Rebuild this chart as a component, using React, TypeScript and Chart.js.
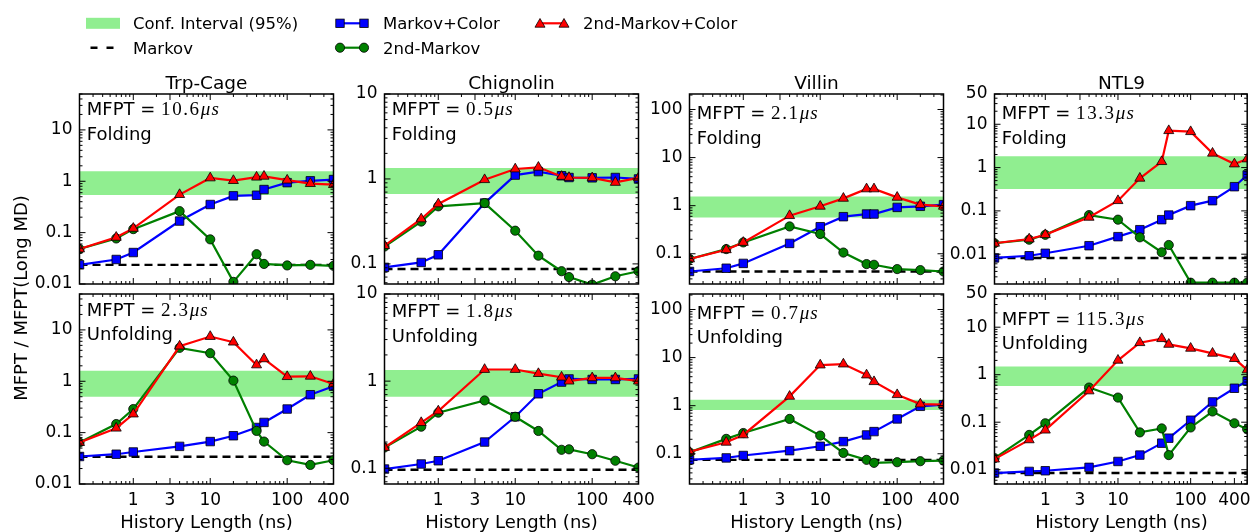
import React, { useEffect, useRef } from "react";
import { Chart, registerables } from "chart.js";

Chart.register(...registerables);

const FIG_W = 1254;
const FIG_H = 532;
const SANS = "'DejaVu Sans', 'Liberation Sans', sans-serif";
const SERIF = "'Liberation Serif', 'DejaVu Serif', serif";

// ---------------- data ----------------
const HISTORY_NS = [0.2, 0.6, 1, 4, 10, 20, 40, 50, 100, 200, 400];
const HISTORY_NS_NTL9 = [0.2, 0.6, 1, 4, 10, 20, 40, 50, 100, 200, 400, 600];
const X_TICK_VALUES = [1, 3, 10, 100, 400];

const PROTEINS = ["Trp-Cage", "Chignolin", "Villin", "NTL9"];
const MFPT_FOLDING = ["10.6", "0.5", "2.1", "13.3"];
const MFPT_UNFOLDING = ["2.3", "1.8", "0.7", "115.3"];

const TRP_Y_TICKS = [0.01, 0.1, 1, 10];
const CHIG_Y_TICKS = [0.1, 1, 10];
const VILLIN_Y_TICKS = [0.1, 1, 10, 100];
const NTL9_Y_TICKS = [0.01, 0.1, 1, 10, 50];

const TRP_FOLD_RANGE = [0.01, 50];
const TRP_UNFOLD_RANGE = [0.01, 50];
const CHIG_FOLD_RANGE = [0.058, 10];
const CHIG_UNFOLD_RANGE = [0.066, 10];
const VILLIN_FOLD_RANGE = [0.0235, 210];
const VILLIN_UNFOLD_RANGE = [0.0235, 210];
const NTL9_FOLD_RANGE = [0.00205, 50];
const NTL9_UNFOLD_RANGE = [0.005, 50];

// Trp-Cage folding
const TRP_FOLD_MARKOV_COLOR = [0.0236, 0.03, 0.041, 0.168, 0.353, 0.52, 0.535, 0.69, 0.94, 1.02, 1.08];
const TRP_FOLD_2ND_MARKOV = [0.048, 0.077, 0.117, 0.262, 0.074, 0.011, 0.038, 0.0246, 0.023, 0.0236, 0.0226];
const TRP_FOLD_2ND_MARKOV_COLOR = [0.048, 0.081, 0.121, 0.55, 1.16, 1.03, 1.2, 1.25, 1.05, 0.9, 0.86];
const TRP_FOLD_MARKOV = 0.0236;
const TRP_FOLD_CI = [0.54, 1.56];
// Trp-Cage unfolding
const TRP_UNFOLD_MARKOV_COLOR = [0.0343, 0.038, 0.042, 0.054, 0.067, 0.087, 0.126, 0.158, 0.288, 0.547, 0.8];
const TRP_UNFOLD_2ND_MARKOV = [0.064, 0.147, 0.288, 4.47, 3.52, 1.03, 0.108, 0.067, 0.029, 0.0235, 0.029];
const TRP_UNFOLD_2ND_MARKOV_COLOR = [0.064, 0.122, 0.23, 4.83, 7.43, 5.78, 2.08, 2.73, 1.23, 1.25, 0.885];
const TRP_UNFOLD_MARKOV = 0.034;
const TRP_UNFOLD_CI = [0.5, 1.6];
// Chignolin folding
const CHIG_FOLD_MARKOV_COLOR = [0.091, 0.104, 0.128, 0.52, 1.11, 1.22, 1.09, 1.04, 1.03, 1.04, 1.0];
const CHIG_FOLD_2ND_MARKOV = [0.16, 0.315, 0.476, 0.52, 0.246, 0.125, 0.082, 0.07, 0.057, 0.0715, 0.082];
const CHIG_FOLD_2ND_MARKOV_COLOR = [0.164, 0.338, 0.508, 0.98, 1.31, 1.37, 1.07, 1.04, 1.03, 0.91, 1.03];
const CHIG_FOLD_MARKOV = 0.087;
const CHIG_FOLD_CI = [0.667, 1.35];
// Chignolin unfolding
const CHIG_UNFOLD_MARKOV_COLOR = [0.098, 0.112, 0.122, 0.2, 0.39, 0.716, 0.975, 1.06, 1.045, 1.045, 1.06];
const CHIG_UNFOLD_2ND_MARKOV = [0.173, 0.3, 0.435, 0.6, 0.39, 0.268, 0.163, 0.165, 0.145, 0.122, 0.102];
const CHIG_UNFOLD_2ND_MARKOV_COLOR = [0.173, 0.334, 0.454, 1.36, 1.36, 1.22, 1.11, 1.0, 1.09, 1.09, 1.0];
const CHIG_UNFOLD_MARKOV = 0.096;
const CHIG_UNFOLD_CI = [0.66, 1.34];
// Villin folding
const VILLIN_FOLD_MARKOV_COLOR = [0.0428, 0.05, 0.063, 0.164, 0.365, 0.59, 0.67, 0.67, 0.92, 0.97, 1.05];
const VILLIN_FOLD_2ND_MARKOV = [0.078, 0.125, 0.172, 0.37, 0.257, 0.106, 0.061, 0.059, 0.048, 0.0457, 0.0428];
const VILLIN_FOLD_2ND_MARKOV_COLOR = [0.0776, 0.121, 0.172, 0.62, 0.97, 1.42, 2.23, 2.23, 1.49, 1.05, 0.97];
const VILLIN_FOLD_MARKOV = 0.0428;
const VILLIN_FOLD_CI = [0.57, 1.56];
// Villin unfolding
const VILLIN_UNFOLD_MARKOV_COLOR = [0.075, 0.082, 0.092, 0.116, 0.143, 0.179, 0.246, 0.289, 0.53, 0.97, 1.05];
const VILLIN_UNFOLD_2ND_MARKOV = [0.107, 0.204, 0.27, 0.53, 0.239, 0.104, 0.0747, 0.0647, 0.0667, 0.07, 0.072];
const VILLIN_UNFOLD_2ND_MARKOV_COLOR = [0.11, 0.173, 0.246, 1.56, 6.99, 7.33, 4.34, 3.15, 1.69, 1.08, 1.05];
const VILLIN_UNFOLD_MARKOV = 0.0747;
const VILLIN_UNFOLD_CI = [0.81, 1.33];
// NTL9 folding
const NTL9_FOLD_MARKOV_COLOR = [0.0082, 0.0092, 0.0105, 0.0157, 0.0254, 0.0368, 0.0627, 0.08, 0.132, 0.172, 0.362, 0.675];
const NTL9_FOLD_2ND_MARKOV = [0.0179, 0.0216, 0.028, 0.08, 0.0627, 0.0245, 0.0111, 0.0163, 0.0022, 0.0022, 0.0022, 0.0022];
const NTL9_FOLD_2ND_MARKOV_COLOR = [0.0179, 0.0224, 0.0282, 0.071, 0.172, 0.566, 1.37, 7.11, 6.74, 2.14, 1.21, 1.58];
const NTL9_FOLD_MARKOV = 0.0082;
const NTL9_FOLD_CI = [0.32, 1.82];
// NTL9 unfolding
const NTL9_UNFOLD_MARKOV_COLOR = [0.0085, 0.0092, 0.0095, 0.0112, 0.0149, 0.0203, 0.0362, 0.0461, 0.11, 0.267, 0.518, 0.738];
const NTL9_UNFOLD_2ND_MARKOV = [0.0175, 0.054, 0.095, 0.536, 0.33, 0.061, 0.074, 0.0203, 0.0774, 0.168, 0.095, 0.0713];
const NTL9_UNFOLD_2ND_MARKOV_COLOR = [0.0167, 0.0425, 0.068, 0.455, 2.01, 4.72, 5.73, 4.35, 3.59, 2.82, 2.18, 1.26];
const NTL9_UNFOLD_MARKOV = 0.0085;
const NTL9_UNFOLD_CI = [0.58, 1.48];

// ---------------- layout ----------------
const COL_LEFT = [79.5, 384.5, 689.5, 994.5];
const ROW_TOP = [94, 294];
const PANEL_W = 254;
const PANEL_H = 190;
const TEXT_BASELINES = [
  [115, 140], [115, 140], [119, 143.5], [118.5, 143.5],
  [315.7, 340], [316.7, 341.7], [319.3, 343.3], [325, 349],
];

const BLUE = "#0000ff";
const GREEN = "#008000";
const RED = "#ff0000";
const CI_GREEN = "#90ee90";

type PanelCfg = {
  idx: number;
  col: number;
  row: number;
  x: number[];
  mc: number[];
  m2: number[];
  m2c: number[];
  markov: number;
  ci: number[];
  yTicks: number[];
  yRange: number[];
};

const PANELS: PanelCfg[] = [
  { idx: 0, col: 0, row: 0, x: HISTORY_NS, mc: TRP_FOLD_MARKOV_COLOR, m2: TRP_FOLD_2ND_MARKOV, m2c: TRP_FOLD_2ND_MARKOV_COLOR, markov: TRP_FOLD_MARKOV, ci: TRP_FOLD_CI, yTicks: TRP_Y_TICKS, yRange: TRP_FOLD_RANGE },
  { idx: 1, col: 1, row: 0, x: HISTORY_NS, mc: CHIG_FOLD_MARKOV_COLOR, m2: CHIG_FOLD_2ND_MARKOV, m2c: CHIG_FOLD_2ND_MARKOV_COLOR, markov: CHIG_FOLD_MARKOV, ci: CHIG_FOLD_CI, yTicks: CHIG_Y_TICKS, yRange: CHIG_FOLD_RANGE },
  { idx: 2, col: 2, row: 0, x: HISTORY_NS, mc: VILLIN_FOLD_MARKOV_COLOR, m2: VILLIN_FOLD_2ND_MARKOV, m2c: VILLIN_FOLD_2ND_MARKOV_COLOR, markov: VILLIN_FOLD_MARKOV, ci: VILLIN_FOLD_CI, yTicks: VILLIN_Y_TICKS, yRange: VILLIN_FOLD_RANGE },
  { idx: 3, col: 3, row: 0, x: HISTORY_NS_NTL9, mc: NTL9_FOLD_MARKOV_COLOR, m2: NTL9_FOLD_2ND_MARKOV, m2c: NTL9_FOLD_2ND_MARKOV_COLOR, markov: NTL9_FOLD_MARKOV, ci: NTL9_FOLD_CI, yTicks: NTL9_Y_TICKS, yRange: NTL9_FOLD_RANGE },
  { idx: 4, col: 0, row: 1, x: HISTORY_NS, mc: TRP_UNFOLD_MARKOV_COLOR, m2: TRP_UNFOLD_2ND_MARKOV, m2c: TRP_UNFOLD_2ND_MARKOV_COLOR, markov: TRP_UNFOLD_MARKOV, ci: TRP_UNFOLD_CI, yTicks: TRP_Y_TICKS, yRange: TRP_UNFOLD_RANGE },
  { idx: 5, col: 1, row: 1, x: HISTORY_NS, mc: CHIG_UNFOLD_MARKOV_COLOR, m2: CHIG_UNFOLD_2ND_MARKOV, m2c: CHIG_UNFOLD_2ND_MARKOV_COLOR, markov: CHIG_UNFOLD_MARKOV, ci: CHIG_UNFOLD_CI, yTicks: CHIG_Y_TICKS, yRange: CHIG_UNFOLD_RANGE },
  { idx: 6, col: 2, row: 1, x: HISTORY_NS, mc: VILLIN_UNFOLD_MARKOV_COLOR, m2: VILLIN_UNFOLD_2ND_MARKOV, m2c: VILLIN_UNFOLD_2ND_MARKOV_COLOR, markov: VILLIN_UNFOLD_MARKOV, ci: VILLIN_UNFOLD_CI, yTicks: VILLIN_Y_TICKS, yRange: VILLIN_UNFOLD_RANGE },
  { idx: 7, col: 3, row: 1, x: HISTORY_NS_NTL9, mc: NTL9_UNFOLD_MARKOV_COLOR, m2: NTL9_UNFOLD_2ND_MARKOV, m2c: NTL9_UNFOLD_2ND_MARKOV_COLOR, markov: NTL9_UNFOLD_MARKOV, ci: NTL9_UNFOLD_CI, yTicks: NTL9_Y_TICKS, yRange: NTL9_UNFOLD_RANGE },
];

function logMarks(min: number, max: number, majors: number[]) {
  const out: { v: number; major: boolean }[] = [];
  const k0 = Math.floor(Math.log10(min));
  const k1 = Math.ceil(Math.log10(max));
  for (let k = k0; k <= k1; k++) {
    for (let m = 1; m <= 9; m++) {
      const v = m * Math.pow(10, k);
      if (v < min * 0.9999 || v > max * 1.0001) continue;
      const major = m === 1 || majors.some((t) => Math.abs(t - v) / t < 1e-6);
      out.push({ v, major });
    }
  }
  return out;
}

function fmt(v: number) {
  return String(parseFloat(v.toPrecision(6)));
}

function buildChart(canvas: HTMLCanvasElement, p: PanelCfg) {
  const left = COL_LEFT[p.col];
  const right = left + PANEL_W;
  const top = ROW_TOP[p.row];
  const bottom = top + PANEL_H;
  const showX = p.row === 1;
  const YW = 70;
  const XH = showX ? 40 : 0;
  const xMin = p.x[0];
  const xMax = p.x[p.x.length - 1];
  const pts = (ys: number[]) => p.x.map((x, i) => ({ x, y: ys[i] }));
  const flat = (v: number) => [{ x: xMin, y: v }, { x: xMax, y: v }];
  const tickFont = { family: SANS, size: 17 };

  const framePlugin = {
    id: "frameTicks" + p.idx,
    afterDatasetsDraw(chart: any) {
      const { ctx, chartArea: a } = chart;
      const xs = chart.scales.x;
      const ys = chart.scales.y;
      ctx.save();
      ctx.strokeStyle = "#000";
      ctx.lineWidth = 1;
      logMarks(ys.min, ys.max, p.yTicks).forEach(({ v, major }) => {
        const py = ys.getPixelForValue(v);
        const len = major ? 6 : 3;
        ctx.beginPath();
        ctx.moveTo(a.left, py);
        ctx.lineTo(a.left + len, py);
        ctx.moveTo(a.right, py);
        ctx.lineTo(a.right - len, py);
        ctx.stroke();
      });
      logMarks(xs.min, xs.max, X_TICK_VALUES).forEach(({ v, major }) => {
        const px = xs.getPixelForValue(v);
        const len = major ? 6 : 3;
        ctx.beginPath();
        ctx.moveTo(px, a.bottom);
        ctx.lineTo(px, a.bottom - len);
        ctx.moveTo(px, a.top);
        ctx.lineTo(px, a.top + len);
        ctx.stroke();
      });
      ctx.lineWidth = 1.5;
      ctx.strokeRect(a.left, a.top, a.right - a.left, a.bottom - a.top);
      ctx.restore();
    },
  };

  const markerCommon = {
    borderWidth: 2.2,
    pointBorderColor: "#000",
    pointBorderWidth: 0.8,
    tension: 0,
  };

  return new Chart(canvas, {
    type: "line",
    data: {
      datasets: [
        { ...markerCommon, label: "2nd-Markov+Color", data: pts(p.m2c), borderColor: RED, backgroundColor: RED, pointBackgroundColor: RED, pointStyle: "triangle", pointRadius: 5.8 },
        { ...markerCommon, label: "2nd-Markov", data: pts(p.m2), borderColor: GREEN, backgroundColor: GREEN, pointBackgroundColor: GREEN, pointStyle: "circle", pointRadius: 4.6 },
        { ...markerCommon, label: "Markov+Color", data: pts(p.mc), borderColor: BLUE, backgroundColor: BLUE, pointBackgroundColor: BLUE, pointStyle: "rect", pointRadius: 6 },
        { label: "Markov", data: flat(p.markov), borderColor: "#000", borderWidth: 2.4, borderDash: [8, 5], pointRadius: 0, tension: 0 },
        { label: "CI high", data: flat(p.ci[1]), borderWidth: 0, borderColor: "rgba(0,0,0,0)", pointRadius: 0, fill: "+1", backgroundColor: CI_GREEN },
        { label: "CI low", data: flat(p.ci[0]), borderWidth: 0, borderColor: "rgba(0,0,0,0)", pointRadius: 0, fill: false },
      ],
    } as any,
    options: {
      animation: false,
      responsive: false,
      events: [],
      layout: {
        padding: { left: left - YW, top, right: FIG_W - right, bottom: FIG_H - bottom - XH },
      },
      plugins: {
        legend: { display: false },
        tooltip: { enabled: false },
        title: { display: false },
      },
      scales: {
        x: {
          type: "logarithmic",
          bounds: "data",
          min: xMin,
          max: xMax,
          afterBuildTicks: (s: any) => {
            s.ticks = X_TICK_VALUES.map((v) => ({ value: v }));
          },
          afterFit: (s: any) => {
            s.height = XH;
            s.paddingLeft = 0;
            s.paddingRight = 0;
          },
          ticks: {
            display: showX,
            autoSkip: false,
            maxRotation: 0,
            minRotation: 0,
            padding: 6,
            color: "#000",
            font: tickFont,
            callback: (v: any) => fmt(Number(v)),
          },
          grid: { display: false, drawTicks: false },
          border: { display: false },
        },
        y: {
          type: "logarithmic",
          bounds: "data",
          min: p.yRange[0],
          max: p.yRange[1],
          afterBuildTicks: (s: any) => {
            s.ticks = p.yTicks.map((v) => ({ value: v }));
          },
          afterFit: (s: any) => {
            s.width = YW;
            s.paddingTop = 0;
            s.paddingBottom = 0;
          },
          ticks: {
            autoSkip: false,
            padding: 7,
            color: "#000",
            font: tickFont,
            callback: (v: any) => fmt(Number(v)),
          },
          grid: { display: false, drawTicks: false },
          border: { display: false },
        },
      },
    } as any,
    plugins: [framePlugin],
  });
}

function Panel({ cfg }: { cfg: PanelCfg }) {
  const ref = useRef<HTMLCanvasElement>(null);
  useEffect(() => {
    const chart = buildChart(ref.current as HTMLCanvasElement, cfg);
    return () => chart.destroy();
  }, [cfg]);
  return (
    <canvas
      ref={ref}
      width={FIG_W}
      height={FIG_H}
      style={{ position: "absolute", left: 0, top: 0, width: FIG_W, height: FIG_H }}
    />
  );
}

function Triangle({ cx, cy, r, fill }: { cx: number; cy: number; r: number; fill: string }) {
  const pts = [
    [cx, cy - r],
    [cx - 0.866 * r, cy + 0.5 * r],
    [cx + 0.866 * r, cy + 0.5 * r],
  ]
    .map((q) => q.join(","))
    .join(" ");
  return <polygon points={pts} fill={fill} stroke="#000" strokeWidth={0.8} />;
}

function Overlay() {
  const legendFont = 16.5;
  const r1 = 23.3;
  const r2 = 47.7;
  return (
    <svg
      width={FIG_W}
      height={FIG_H}
      style={{ position: "absolute", left: 0, top: 0, pointerEvents: "none" }}
    >
      {/* legend */}
      <rect x={86} y={r1 - 5.5} width={34} height={11} fill={CI_GREEN} />
      <text x={133} y={r1 + 6} fontFamily={SANS} fontSize={legendFont} fill="#000">Conf. Interval (95%)</text>
      <line x1={90.5} y1={r2} x2={114} y2={r2} stroke="#000" strokeWidth={2.5} strokeDasharray="7 9" />
      <text x={133} y={r2 + 6} fontFamily={SANS} fontSize={legendFont} fill="#000">Markov</text>

      <line x1={340} y1={r1} x2={364} y2={r1} stroke={BLUE} strokeWidth={2.2} />
      <rect x={340 - 4.2} y={r1 - 4.2} width={8.4} height={8.4} fill={BLUE} stroke="#000" strokeWidth={0.8} />
      <rect x={364 - 4.2} y={r1 - 4.2} width={8.4} height={8.4} fill={BLUE} stroke="#000" strokeWidth={0.8} />
      <text x={383} y={r1 + 6} fontFamily={SANS} fontSize={legendFont} fill="#000">Markov+Color</text>

      <line x1={340} y1={r2} x2={364} y2={r2} stroke={GREEN} strokeWidth={2.2} />
      <circle cx={340} cy={r2} r={4.6} fill={GREEN} stroke="#000" strokeWidth={0.8} />
      <circle cx={364} cy={r2} r={4.6} fill={GREEN} stroke="#000" strokeWidth={0.8} />
      <text x={383} y={r2 + 6} fontFamily={SANS} fontSize={legendFont} fill="#000">2nd-Markov</text>

      <line x1={540} y1={r1} x2={564} y2={r1} stroke={RED} strokeWidth={2.2} />
      <Triangle cx={540} cy={r1 + 1} r={5.8} fill={RED} />
      <Triangle cx={564} cy={r1 + 1} r={5.8} fill={RED} />
      <text x={583} y={r1 + 6} fontFamily={SANS} fontSize={legendFont} fill="#000">2nd-Markov+Color</text>

      {/* titles */}
      {PROTEINS.map((name, i) => (
        <text key={"t" + i} x={COL_LEFT[i] + PANEL_W / 2} y={88.5} textAnchor="middle" fontFamily={SANS} fontSize={18.5} fill="#000">
          {name}
        </text>
      ))}

      {/* annotations */}
      {PANELS.map((p) => {
        const x = COL_LEFT[p.col] + 7.3;
        const [b1, b2] = TEXT_BASELINES[p.idx];
        const val = p.row === 0 ? MFPT_FOLDING[p.col] : MFPT_UNFOLDING[p.col];
        return (
          <g key={"a" + p.idx}>
            <text x={x} y={b1} fontFamily={SANS} fontSize={18} fill="#000">
              {"MFPT = "}
              <tspan fontFamily={SERIF} fontSize={19} letterSpacing={1.6}>{val}</tspan>
              <tspan fontFamily={SERIF} fontSize={19} fontStyle="italic" letterSpacing={1.2}>{"μs"}</tspan>
            </text>
            <text x={x} y={b2} fontFamily={SANS} fontSize={18} fill="#000">
              {p.row === 0 ? "Folding" : "Unfolding"}
            </text>
          </g>
        );
      })}

      {/* x labels */}
      {COL_LEFT.map((l, i) => (
        <text key={"x" + i} x={l + PANEL_W / 2} y={528} textAnchor="middle" fontFamily={SANS} fontSize={18} fill="#000">
          History Length (ns)
        </text>
      ))}

      {/* y label */}
      <text transform="translate(27,298) rotate(-90)" x={0} y={0} textAnchor="middle" fontFamily={SANS} fontSize={18} fill="#000">
        MFPT / MFPT(Long MD)
      </text>
    </svg>
  );
}

export default function App() {
  return (
    <div
      style={{
        position: "absolute",
        left: 0,
        top: 0,
        width: FIG_W,
        height: FIG_H,
        background: "#fff",
        overflow: "hidden",
      }}
    >
      {PANELS.map((p) => (
        <Panel key={p.idx} cfg={p} />
      ))}
      <Overlay />
    </div>
  );
}
